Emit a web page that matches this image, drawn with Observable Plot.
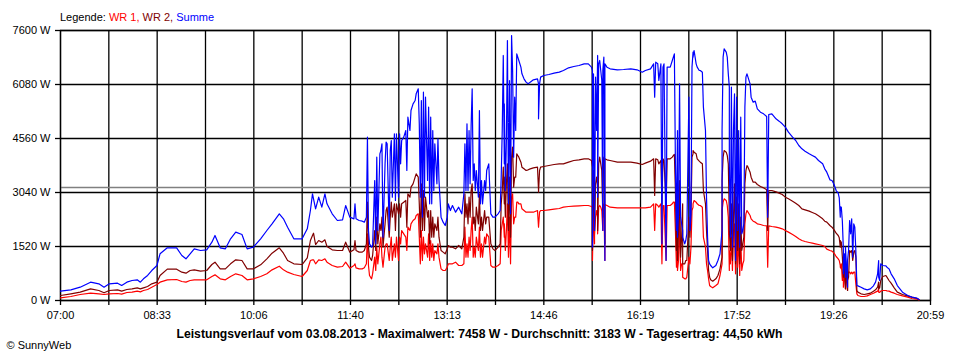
<!DOCTYPE html>
<html><head><meta charset="utf-8">
<script src="https://cdn.jsdelivr.net/npm/d3@7"></script>
<script src="https://cdn.jsdelivr.net/npm/@observablehq/plot@0.6"></script>
<style>
html,body{margin:0;padding:0;background:#fff;}
#chart svg{display:block;}
</style></head><body><div id="chart"></div>
<script>
// ---- data ----
const zeit = [
"07:00","07:10","07:19","07:29","07:37","07:42","07:47","07:55","07:59","08:04",
"08:09","08:14","08:17","08:20","08:24","08:28","08:33","08:36","08:43","08:52",
"08:57","09:01","09:05","09:09","09:15","09:21","09:26","09:29","09:34","09:39",
"09:44","09:49","09:55","10:00","10:06","10:13","10:19","10:24","10:31","10:35",
"10:39","10:45","10:53","10:58","11:01","11:03","11:04","11:06","11:09","11:12",
"11:15","11:17","11:22","11:27","11:32","11:35","11:39","11:43",
"11:44","11:45","11:48","11:51","11:53","11:55","11:56","11:57","11:58","12:00",
"12:01","12:03","12:04","12:05","12:06","12:08","12:09","12:10","12:11","12:13",
"12:14","12:15","12:17","12:18","12:19","12:20","12:22","12:23","12:24","12:26",
"12:27","12:28","12:29","12:31","12:33","12:34","12:35","12:37","12:38","12:40",
"12:42","12:43","12:45","12:46","12:47","12:48","12:49","12:50","12:51","12:52",
"12:54","12:55","12:56","12:57","12:58","12:59","13:00","13:01","13:03","13:04",
"13:05","13:07","13:09","13:11","13:13","13:14","13:16","13:18","13:21","13:24",
"13:27","13:29","13:30","13:31","13:32","13:33","13:34","13:35","13:36","13:37",
"13:38","13:39","13:40","13:41","13:43","13:44","13:45","13:46","13:47","13:49",
"13:50","13:51","13:53","13:55","13:57","13:59","14:02","14:04","14:05","14:06",
"14:07","14:08","14:08","14:09","14:10","14:11","14:12","14:13","14:14","14:15",
"14:16","14:17","14:18","14:19","14:20","14:21","14:22","14:24","14:25","14:27",
"14:29","14:31","14:33","14:36",
"14:40","14:41","14:41","14:42","14:43","14:46","14:51","14:56","15:01","15:05",
"15:10","15:15","15:20","15:25","15:29","15:32","15:33","15:33","15:34","15:35",
"15:35","15:36","15:37","15:38","15:38","15:39","15:40","15:41","15:42","15:43",
"15:43","15:44","15:45","15:45","15:47","15:50","15:57","16:03","16:10","16:16",
"16:21","16:24","16:29","16:32","16:33","16:34","16:36","16:37","16:39","16:40",
"16:41","16:42","16:44","16:45","16:48","16:50","16:51","16:52","16:53","16:54",
"16:55","16:55","16:56","16:57","16:58","16:59","17:00","17:00","17:02","17:03",
"17:04","17:06","17:07","17:08","17:09","17:10","17:10","17:11","17:13","17:14",
"17:16","17:17","17:19","17:20","17:22","17:23","17:24","17:25","17:26",
"17:27","17:29","17:32","17:34","17:36","17:38","17:38","17:39","17:40","17:42",
"17:43","17:44","17:45","17:45","17:46","17:47","17:48","17:49","17:50","17:51",
"17:52","17:53","17:54","17:55","17:56","17:57","17:58","17:59","18:00","18:01",
"18:02","18:03","18:05","18:06","18:08","18:10","18:12","18:15","18:18","18:21",
"18:22","18:23","18:26","18:30","18:33","18:36","18:39","18:42","18:46","18:49",
"18:52","18:55","18:58","19:02","19:05","19:08","19:11","19:15","19:17",
"19:19","19:22","19:24","19:26","19:28","19:30","19:31","19:32","19:32","19:33",
"19:33","19:34","19:35","19:35","19:36","19:37","19:37","19:38","19:39","19:39",
"19:40","19:41","19:42","19:43","19:44","19:45","19:46","19:47","19:48","19:49",
"19:52","19:55","19:58","20:01","20:04","20:06","20:08","20:09","20:09","20:10",
"20:11","20:13","20:16","20:17","20:19","20:21","20:24","20:27","20:32","20:37",
"20:41","20:46","20:48"
];
// WR 1 (W)
const wr1 = [
75,113,169,206,188,169,188,197,178,225,
235,263,244,281,310,375,450,516,582,591,
535,516,563,582,582,582,676,722,610,582,
676,751,704,582,610,676,751,863,966,863,
798,732,676,844,1126,1145,1145,1032,1145,1126,
1173,1079,985,938,957,1079,910,985,
1032,920,891,891,920,1032,1877,985,704,610,
751,1220,844,1501,1032,1595,1783,1220,938,1501,
1595,1595,1126,1501,1783,1126,1595,1220,1783,1126,
1783,1595,1970,1877,1783,1407,2064,1970,2158,2252,
2299,2393,2440,1783,1032,1970,1126,1783,1314,1595,
1220,1877,1126,1689,1220,1595,1126,1407,1314,1595,
1220,891,844,844,938,1032,1032,1032,1079,985,
985,1032,2064,1220,1595,1220,1783,1407,1970,2346,
1220,1501,1220,1783,1407,2064,1220,1595,1220,1783,
1595,1877,1783,985,938,938,985,1032,1970,2158,
2346,1783,2158,1407,1970,2721,1220,2346,1032,2909,
3003,2158,2346,2346,2768,2768,2721,2721,2580,2533,
2486,2486,2486,2486,
2533,2064,2064,2486,2533,2533,2552,2571,2590,2627,
2646,2655,2665,2674,2674,2646,2627,1126,2627,1595,
1830,2346,2533,2346,1877,2627,2674,2627,2533,1970,
2627,2721,1126,2702,2674,2627,2608,2608,2608,2608,
2608,2608,2627,2721,1970,2721,2674,2627,2721,1032,
2674,2674,1126,2674,2674,2721,2768,2768,1970,938,
1970,844,1126,2346,844,1032,1032,657,610,610,
657,1220,1032,1501,2533,2627,2721,2815,2768,2721,
2674,2674,2627,1783,1501,1032,844,610,422,
394,357,422,469,704,1032,2533,2768,2862,2815,
2674,2346,844,1407,1032,1783,844,1970,2158,751,
1970,938,1877,704,1783,844,1032,1126,2158,2440,
2533,2486,2393,2299,2233,2205,2158,2139,2111,2102,
938,2102,2083,2064,2045,2017,1970,1924,1858,1802,
1736,1689,1661,1633,1614,1595,1576,1548,1520,
1445,1407,1389,1332,1239,1173,1126,985,938,891,
1032,563,891,375,844,328,844,563,281,751,
798,798,751,798,751,798,798,469,188,141,
113,113,131,169,206,235,263,328,235,225,
263,281,281,272,263,235,206,169,131,94,
56,38,19
];
// WR 2 (W)
const wr2 = [
141,188,235,328,281,216,281,300,263,310,
328,357,328,357,394,469,516,704,882,882,
798,769,844,863,826,844,1013,1079,891,891,
1032,1145,1126,891,891,1004,1173,1332,1483,1332,
1126,1032,1013,1201,1689,1830,1895,1576,1689,1642,
1708,1520,1426,1407,1407,1642,1361,1426,
1689,1407,1361,1361,1407,1595,2768,1501,1220,1126,
1267,1970,1407,2346,1595,2158,1970,2346,1501,2158,
2533,2627,1783,2346,2768,2346,2721,1970,2721,2440,
2721,2346,2721,2768,2815,2064,3003,2909,3190,3284,
3472,3566,3472,2721,1783,3284,1970,3096,1970,2909,
2346,2533,1595,2533,1783,2346,1783,2158,1970,2346,
1783,1407,1361,1314,1454,1548,1501,1501,1454,1548,
1454,1783,3003,2346,2721,2158,2909,2346,3096,3284,
2158,2346,1970,2627,2158,3003,1970,2346,1970,2533,
2158,2346,2346,1595,1454,1407,1501,1595,2721,3096,
3753,2721,3472,2346,3284,3847,1970,3472,1783,4035,
4316,3190,3472,3472,4129,4082,4035,3894,3753,3706,
3659,3678,3706,3734,
3753,3096,3049,3659,3753,3772,3800,3828,3847,3847,
3894,3941,3960,3988,3988,3941,3753,1407,3659,2158,
1970,3284,3472,3190,1970,3847,4035,3847,3659,2346,
3847,4035,1595,3988,3960,3941,3894,3894,3894,3866,
3828,3866,3922,3988,2956,3988,3960,3847,3941,2721,
3988,3941,2721,3988,3988,4035,4082,4110,3096,1407,
2909,1126,1970,3378,1220,1783,2721,1032,1032,1126,
1126,2346,1783,2440,4035,4129,4222,4175,4129,3988,
3922,3894,3847,3096,2721,1970,1407,844,657,
582,544,610,704,891,1220,3378,4035,4222,4175,
4082,3847,2346,1970,1407,2721,1126,2346,3284,1032,
2909,1407,2721,1032,2346,1407,1595,1783,3284,3659,
3800,3753,3612,3472,3331,3331,3265,3209,3171,3115,
1970,3096,3096,3059,3021,2984,2909,2862,2796,2740,
2674,2580,2552,2515,2477,2440,2383,2299,2233,
2205,2111,2064,1989,1895,1830,1764,1501,1689,1614,
1642,1220,657,1126,938,328,1126,751,281,563,
657,1407,1361,1407,1126,1361,1407,1220,281,235,
188,169,188,206,263,300,375,516,328,357,
563,676,704,657,563,488,357,235,169,131,
94,56,28
];
// Summe (W)
const summe = [
263,300,375,516,469,375,469,488,422,516,
563,582,516,610,704,844,985,1314,1483,1483,
1267,1173,1314,1454,1407,1426,1642,1830,1483,1454,
1736,1924,1858,1454,1501,1736,1970,2158,2440,2299,
2064,1736,1736,2017,2533,3003,2862,2580,2909,2627,
3003,2721,2440,2252,2271,2674,2346,2299,
2721,2299,2252,2233,2205,2346,4598,1970,1595,1501,
1548,3378,1595,4035,1970,4129,4222,4410,1783,3847,
4457,4410,1970,4222,4504,2909,4692,2815,4692,2909,
4692,3847,4504,4598,4785,3659,5161,4785,5348,5536,
5630,5817,5958,4973,2909,5630,2346,5864,2909,5724,
3378,5442,2721,5161,2721,4785,3096,4410,3284,4551,
3378,2346,2205,2111,2346,2721,2533,2674,2486,2627,
2440,3003,4410,3096,4973,3096,4785,3284,4926,5958,
3378,3847,3096,3659,2909,5348,2721,3378,2721,3378,
3096,3659,3847,2440,2346,2346,2440,2533,3472,4785,
6897,3847,5536,3096,4504,7319,2721,6193,2440,7458,
6474,4035,5724,4785,6943,6850,6756,6568,6380,6240,
6146,6099,6146,6212,
6240,6099,5114,6099,6287,6334,6362,6399,6427,6474,
6549,6587,6615,6662,6662,6568,6474,1501,6380,2346,
1970,6287,4785,6897,2909,6662,6756,6474,6193,1970,
6474,6850,1126,6662,6568,6521,6493,6502,6521,6493,
6427,6474,6521,6662,5724,6709,6662,6193,6662,1595,
6568,6662,1126,6568,6568,6756,6850,6943,3847,1970,
4785,1783,2440,6099,2346,2158,1970,1783,1595,1689,
1877,5724,1970,2440,6568,6990,6850,7037,6662,6568,
6474,6474,6427,5442,4785,2909,1783,1126,1032,
985,920,985,1126,1314,1970,4785,6850,7084,6990,
6850,6380,6005,3847,1783,6005,1501,4785,5817,1126,
5724,1970,4785,1501,5161,1877,1970,2158,5442,6287,
6380,6287,6099,5724,5583,5611,5395,5301,5254,5179,
2346,5236,5254,5114,5048,4973,4879,4738,4598,4504,
4363,4269,4204,4129,4082,4035,3941,3847,3706,
3612,3397,3378,3265,3096,3021,2890,2346,2646,2533,
2627,2233,1407,751,1314,657,1501,938,375,1126,
1407,2252,1877,2299,1220,2158,2064,1407,422,413,
375,328,300,328,413,516,751,1126,657,563,
1032,985,976,938,891,751,610,422,235,141,
94,66,28
];

const yTicks = [0, 1520, 3040, 4560, 6080, 7600];
const xLabels = ["07:00","08:33","10:06","11:40","13:13","14:46","16:19","17:52","19:26","20:59"];
const legendItems = ["Legende:", "WR 1,", "WR 2,", "Summe"];
const legendColors = ["#000000", "#ff0000", "#800000", "#0000ff"];
const datum = "03.08.2013";
const maximalwert = 7458;
const durchschnitt = 3183;
const tagesertrag = "44,50";
const copyright = "\u00A9 SunnyWeb";

// ---- build ----
const toMin = s => { const [h, m] = s.split(":").map(Number); return h * 60 + m; };
const start = toMin(xLabels[0]);
const end = toMin(xLabels[xLabels.length - 1]);
const nDiv = (xLabels.length - 1) * 2;
const xTicks = d3.range(nDiv + 1).map(i => start + i * (end - start) / nDiv);
const labelOf = new Map(xTicks.map((t, i) => [t, i % 2 === 0 ? xLabels[i / 2] : ""]));

const rows = zeit.map((t, i) => ({t: toMin(t), wr1: wr1[i], wr2: wr2[i], summe: summe[i]}));
const footer = `Leistungsverlauf vom ${datum} - Maximalwert: ${maximalwert} W - Durchschnitt: ${durchschnitt} W - Tagesertrag: ${tagesertrag} kWh`;

const font = "'Liberation Sans', Arial, Helvetica, sans-serif";

const plot = Plot.plot({
  width: 960,
  height: 360,
  marginLeft: 60,
  marginRight: 30,
  marginTop: 30,
  marginBottom: 60,
  style: {fontFamily: font, fontSize: "11px", background: "#ffffff", color: "#000000"},
  x: {type: "linear", domain: [start, end]},
  y: {domain: [0, yTicks[yTicks.length - 1]]},
  marks: [
    Plot.gridX(xTicks, {stroke: "#000000", strokeOpacity: 1, strokeWidth: 1.3}),
    Plot.gridY(yTicks, {stroke: "#000000", strokeOpacity: 1, strokeWidth: 1.3}),
    Plot.ruleY([durchschnitt], {stroke: "#808080", strokeWidth: 1.5}),
    Plot.axisY({ticks: yTicks, tickFormat: d => `${d} W`, tickSize: 5, tickPadding: 5, label: null, fontSize: 11, strokeWidth: 1.3}),
    Plot.axisX({ticks: xTicks, tickFormat: d => labelOf.get(d) ?? "", tickSize: 5, tickPadding: 6, label: null, fontSize: 11, strokeWidth: 1.3}),
    Plot.frame({stroke: "#000000", strokeWidth: 1.3}),
    Plot.line(rows, {x: "t", y: "wr1", stroke: "#ff0000", strokeWidth: 1.2}),
    Plot.line(rows, {x: "t", y: "wr2", stroke: "#800000", strokeWidth: 1.2}),
    Plot.line(rows, {x: "t", y: "summe", stroke: "#0000ff", strokeWidth: 1.2}),
    Plot.text([footer], {frameAnchor: "bottom", dx: -16, dy: 37, fontWeight: "bold", fontSize: 12.2, fill: "#000000"}),
    Plot.text([copyright], {frameAnchor: "bottom-left", dx: -54, dy: 48, textAnchor: "start", fontSize: 11, fill: "#000000"})
  ]
});

// legend line with coloured parts
const xs = plot.scale("x").range;
const leg = d3.select(plot).append("text")
  .attr("x", xs[0]).attr("y", 21)
  .attr("text-anchor", "start")
  .attr("font-family", font).attr("font-size", 11);
legendItems.forEach((t, i) => {
  leg.append("tspan").attr("fill", legendColors[i]).text(i < legendItems.length - 1 ? t + " " : t);
});

document.getElementById("chart").append(plot);
</script>
</body></html>
